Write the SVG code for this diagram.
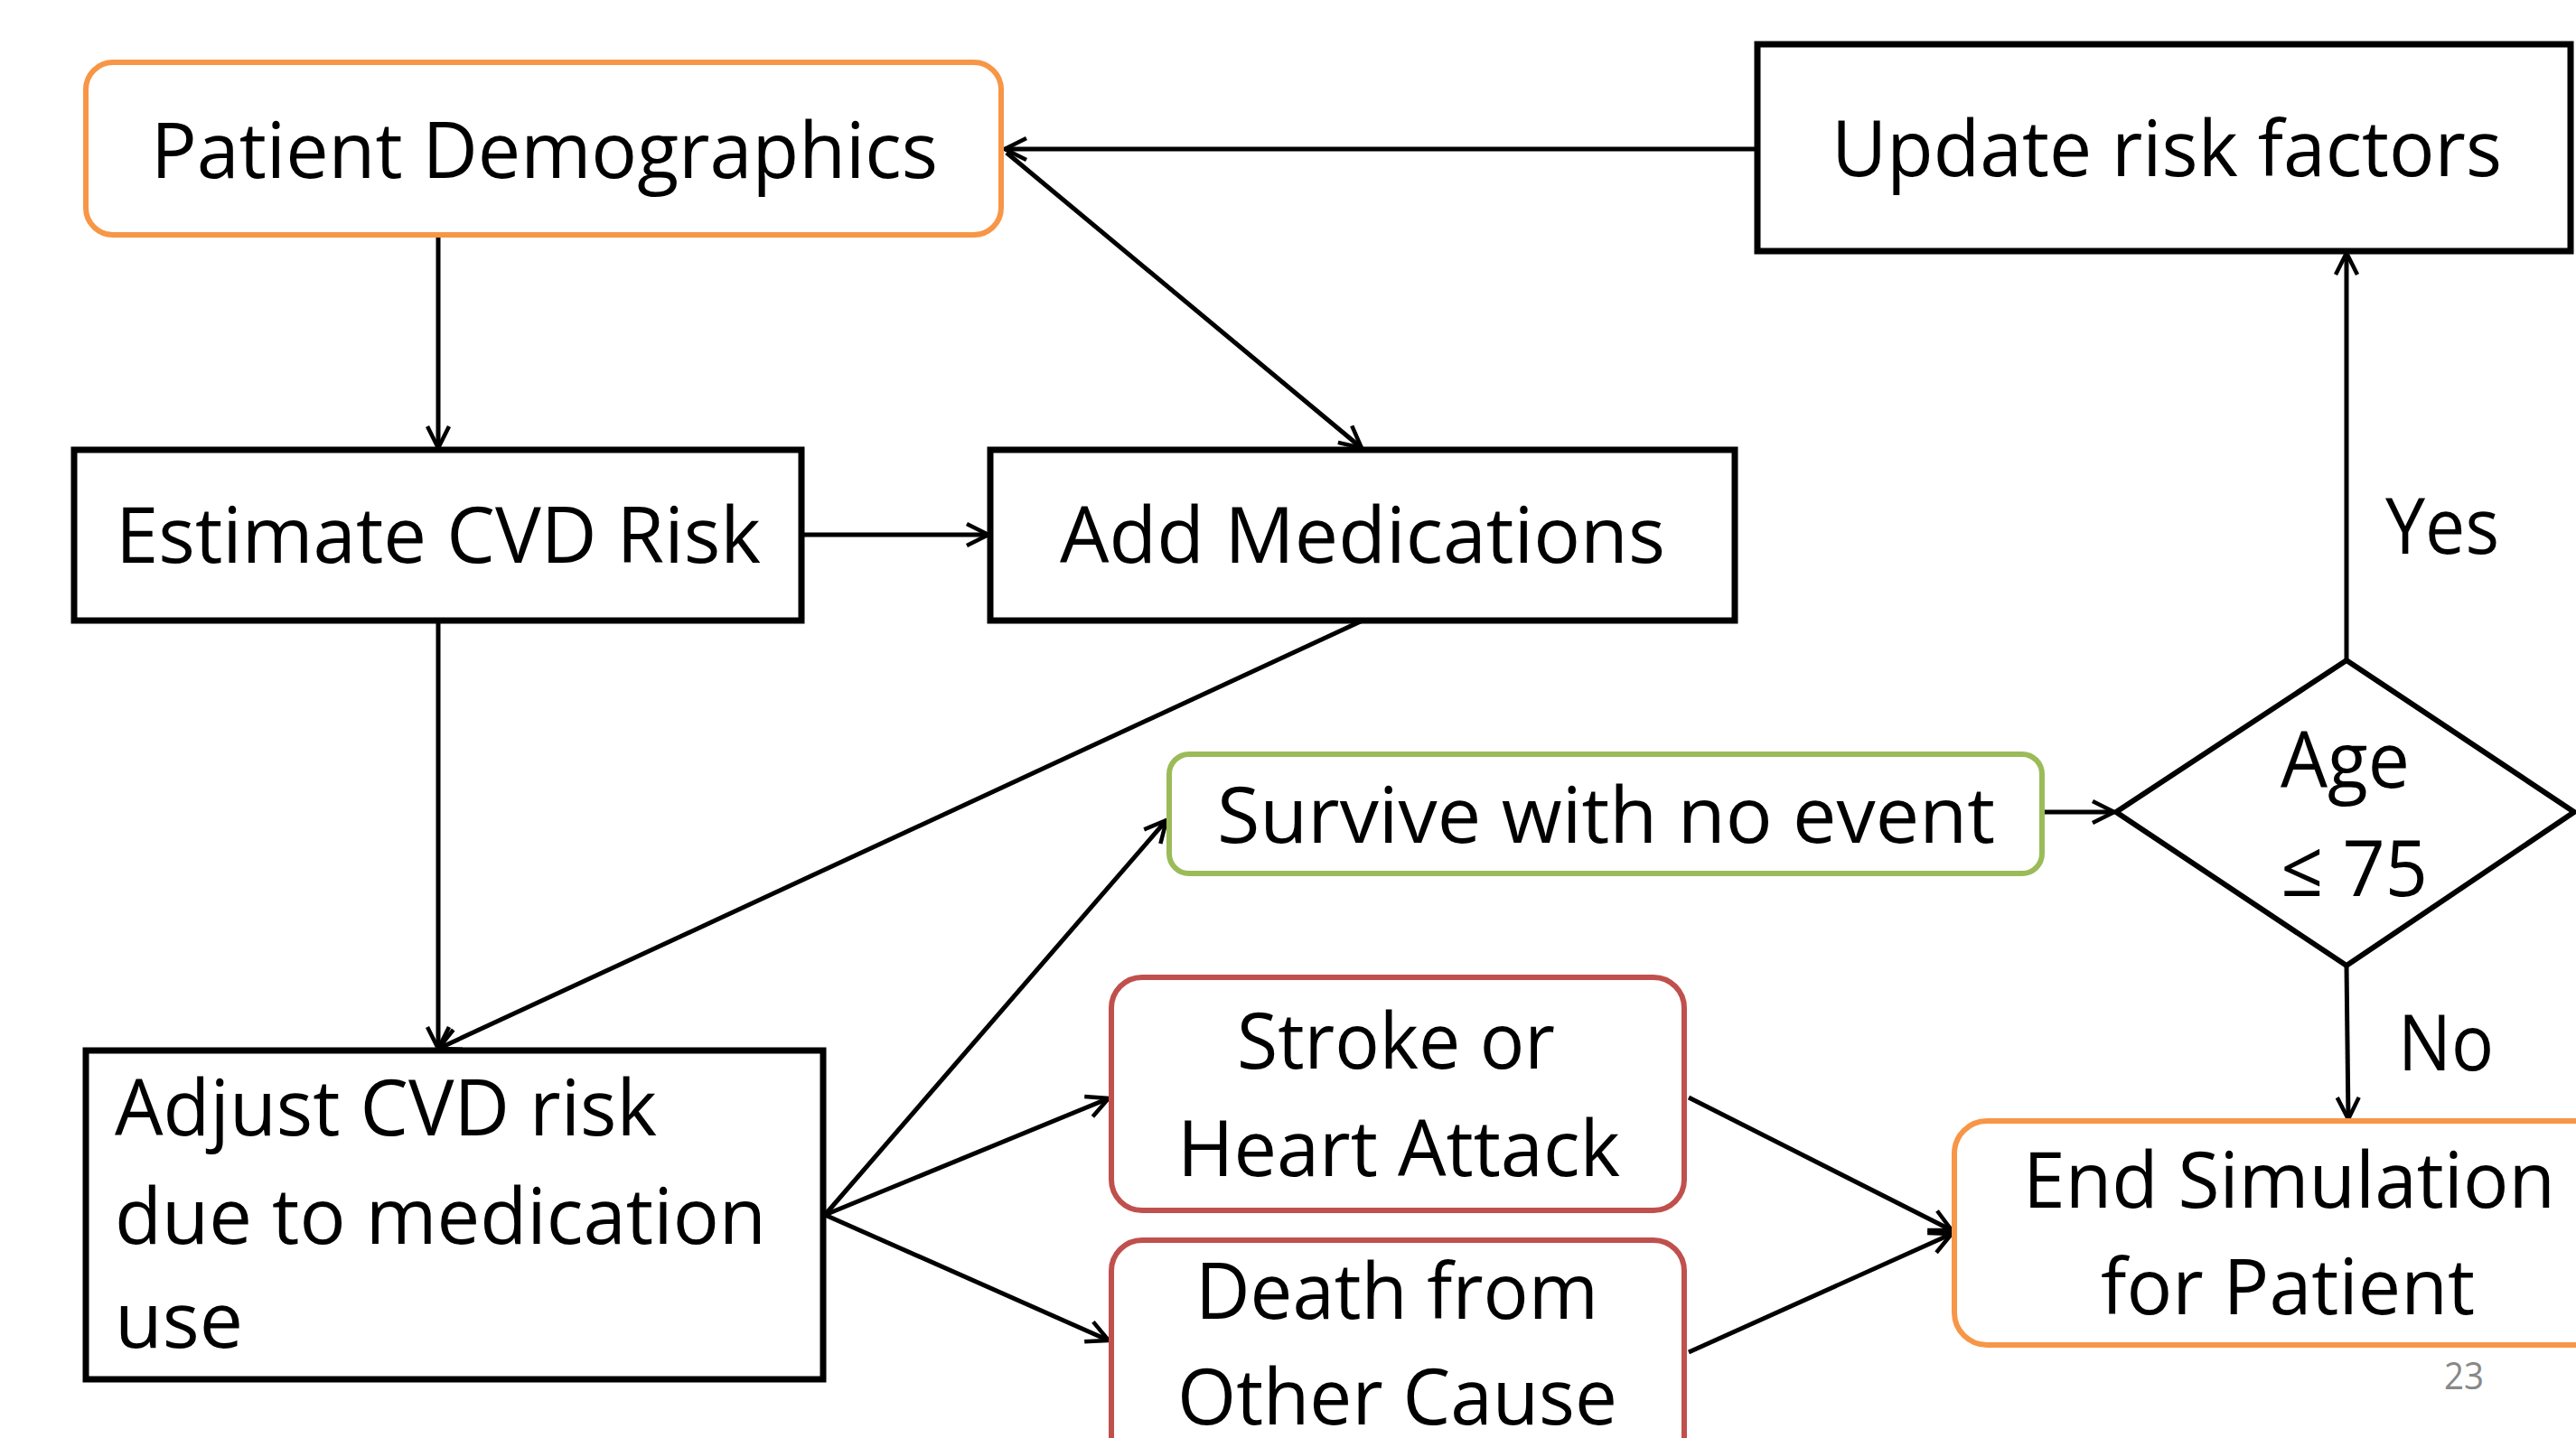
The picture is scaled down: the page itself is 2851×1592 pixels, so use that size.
<svg xmlns="http://www.w3.org/2000/svg" width="2851" height="1592" viewBox="0 0 2851 1592">
<style>
.t{font-family:"Open Sans","Noto Sans","DejaVu Sans",sans-serif;font-size:86px;fill:#000}
.box{fill:#fff;stroke:#000;stroke-width:7}
.orange{fill:#fff;stroke:#F79646;stroke-width:6}
.green{fill:#fff;stroke:#9BBB59;stroke-width:6}
.red{fill:#fff;stroke:#C0504D;stroke-width:6}
.c{fill:none;stroke:#000;stroke-width:5;marker-end:url(#a)}
</style>
<defs>
<marker id="a" markerUnits="userSpaceOnUse" viewBox="0 0 30 30" markerWidth="30" markerHeight="30" refX="28" refY="15" orient="auto">
<path d="M4,3 L28,15 L4,27" fill="none" stroke="#000" stroke-width="4.5"/>
</marker>
</defs>
<rect width="2851" height="1592" fill="#fff"/>
<g id="connectors">
<line class="c" x1="1945" y1="165" x2="1112" y2="165"/>
<line class="c" x1="1114" y1="169" x2="1507" y2="496"/>
<line class="c" x1="485" y1="260" x2="485" y2="496"/>
<line class="c" x1="887" y1="592" x2="1094" y2="592"/>
<line class="c" x1="485" y1="687" x2="485" y2="1161"/>
<line class="c" x1="1508" y1="687" x2="485" y2="1161"/>
<line class="c" x1="913" y1="1345" x2="1291" y2="908"/>
<line class="c" x1="913" y1="1345" x2="1227" y2="1216"/>
<line class="c" x1="913" y1="1345" x2="1227" y2="1484"/>
<line class="c" x1="1869" y1="1215" x2="2160" y2="1362"/>
<line class="c" x1="1869" y1="1497" x2="2160" y2="1366"/>
<line class="c" x1="2260" y1="899" x2="2340" y2="899"/>
<line class="c" x1="2597" y1="731" x2="2597" y2="280"/>
<line class="c" x1="2597" y1="1069" x2="2599" y2="1239"/>
</g>
<g id="patient-demographics">
<rect class="orange" x="95" y="69" width="1013" height="191" rx="30"/>
<text class="t" x="167" y="197" textLength="871" lengthAdjust="spacingAndGlyphs">Patient Demographics</text>
</g>
<g id="update-risk-factors">
<rect class="box" x="1945" y="49" width="900" height="229"/>
<text class="t" x="2027" y="195" textLength="742" lengthAdjust="spacingAndGlyphs">Update risk factors</text>
</g>
<g id="estimate-cvd-risk">
<rect class="box" x="82" y="498" width="805" height="189"/>
<text class="t" x="128" y="623" textLength="714" lengthAdjust="spacingAndGlyphs">Estimate CVD Risk</text>
</g>
<g id="add-medications">
<rect class="box" x="1096" y="498" width="824" height="189"/>
<text class="t" x="1173" y="623" textLength="670" lengthAdjust="spacingAndGlyphs">Add Medications</text>
</g>
<g id="adjust-cvd-risk">
<rect class="box" x="95" y="1163" width="816" height="364"/>
<text class="t" x="127" y="1257" textLength="600" lengthAdjust="spacingAndGlyphs">Adjust CVD risk</text>
<text class="t" x="127" y="1377" textLength="721" lengthAdjust="spacingAndGlyphs">due to medication</text>
<text class="t" x="127" y="1492">use</text>
</g>
<g id="survive">
<rect class="green" x="1294" y="835" width="966" height="132" rx="22"/>
<text class="t" x="1347" y="933" textLength="861" lengthAdjust="spacingAndGlyphs">Survive with no event</text>
</g>
<g id="stroke-heart-attack">
<rect class="red" x="1230" y="1082" width="634" height="258" rx="34"/>
<text class="t" x="1369" y="1183" textLength="352" lengthAdjust="spacingAndGlyphs">Stroke or</text>
<text class="t" x="1303" y="1302" textLength="490" lengthAdjust="spacingAndGlyphs">Heart Attack</text>
</g>
<g id="death-other-cause">
<rect class="red" x="1230" y="1373" width="634" height="260" rx="34"/>
<text class="t" x="1323" y="1460" textLength="446" lengthAdjust="spacingAndGlyphs">Death from</text>
<text class="t" x="1303" y="1577" textLength="487" lengthAdjust="spacingAndGlyphs">Other Cause</text>
</g>
<g id="age-decision">
<polygon points="2342,899 2597,731 2849,899 2597,1069" fill="#fff" stroke="#000" stroke-width="6"/>
<text class="t" x="2524" y="872" textLength="143" lengthAdjust="spacingAndGlyphs">Age</text>
<text class="t" x="2524" y="992" textLength="163" lengthAdjust="spacingAndGlyphs">≤ 75</text>
</g>
<g id="end-simulation">
<rect class="orange" x="2163" y="1241" width="740" height="248" rx="36"/>
<text class="t" x="2239" y="1337" textLength="589" lengthAdjust="spacingAndGlyphs">End Simulation</text>
<text class="t" x="2325" y="1455" textLength="414" lengthAdjust="spacingAndGlyphs">for Patient</text>
</g>
<g id="labels">
<text class="t" x="2640" y="613" textLength="126" lengthAdjust="spacingAndGlyphs">Yes</text>
<text class="t" x="2654" y="1185" textLength="106" lengthAdjust="spacingAndGlyphs">No</text>
<text x="2705" y="1538" font-family="Open Sans, sans-serif" font-size="42" fill="#888" textLength="44" lengthAdjust="spacingAndGlyphs">23</text>
</g>
</svg>
